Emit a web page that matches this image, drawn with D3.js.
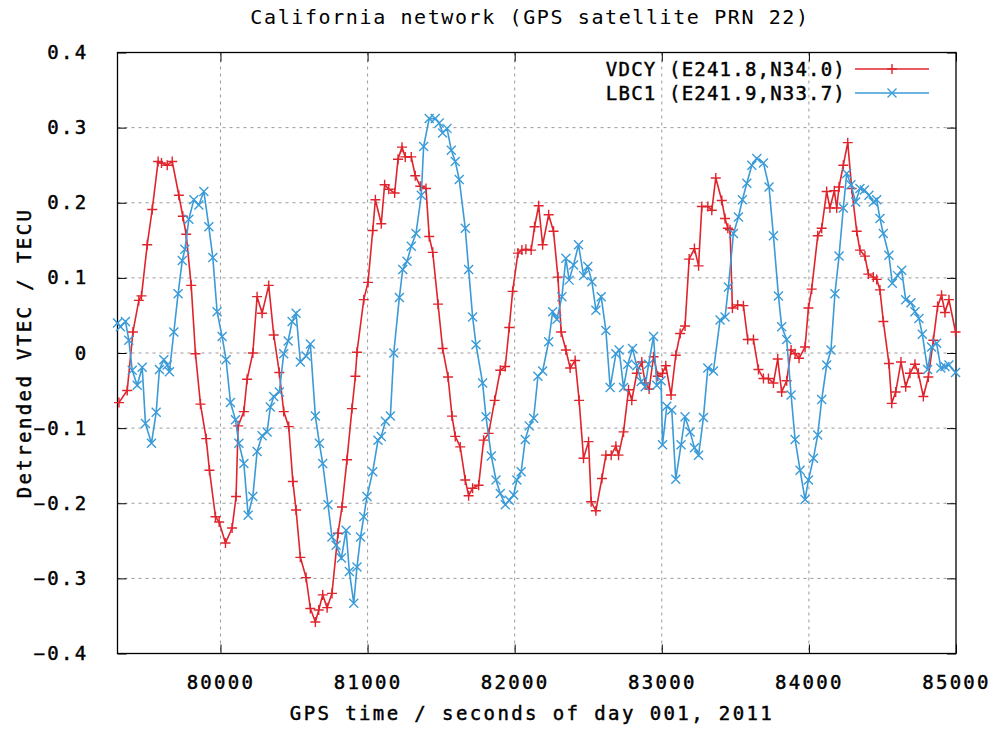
<!DOCTYPE html>
<html>
<head>
<meta charset="utf-8">
<script src="https://cdn.jsdelivr.net/npm/d3@7"></script>
<style>
  body { margin: 0; background: #fff; }
  svg text { font-family: "DejaVu Sans Mono", "Liberation Mono", monospace; fill: #000; }
  svg text.heavy { stroke: #000; stroke-width: 0.45px; }
</style>
</head>
<body>
<svg id="chart"></svg>
<script>
// VDCY (red, "+")
const vdcyTime = [
  79310,79366,79405,79445,79463,79502,79536,79576,79599,79638,79672,79717,79744,79767,79801,79830,79864,79903,79925,79966,79991,80034,80079,
  80106,80120,80159,80181,80220,80249,80283,80328,80362,80400,80430,80464,80492,80514,80543,80582,80611,80645,80668,80695,80725,80758,80799,80826,80860,
  80894,80917,80928,80974,81003,81035,81053,81093,81116,81144,81184,81207,81234,81256,81297,81324,81358,81397,81419,81443,81479,81510,81547,81574,81596,81630,81664,81687,81714,
  81755,81789,81823,81864,81902,81936,81963,81986,82022,82049,82076,82112,82135,82163,82190,82231,82264,82294,82316,82348,82377,82411,82438,82468,82502,82520,82552,
  82593,82620,82656,82688,82706,82740,82774,82796,82830,82864,82887,82914,82944,82973,83005,83027,83063,83095,83125,83158,83186,83222,83250,83272,83313,83340,83367,
  83408,83430,83449,83464,83480,83516,83555,83584,83623,83657,83691,83725,83759,83788,83815,83849,83879,83906,83933,83974,83997,84019,84060,84087,84121,84143,84173,
  84189,84205,84234,84264,84291,84325,84347,84381,84404,84438,84461,84483,84506,84544,84563,84590,84626,84658,84687,84721,84744,84778,84812,84846,84875,84902,84925,84952,84997
];
const vdcyValue = [
  -0.066,-0.05,0.028,0.07,0.076,0.144,0.191,0.255,0.253,0.25,0.255,0.21,0.182,0.158,0.09,-0.001,-0.068,-0.114,-0.156,-0.218,-0.225,-0.253,-0.233,
  -0.191,-0.097,-0.078,-0.035,0.0,0.075,0.053,0.09,0.024,-0.026,-0.078,-0.098,-0.171,-0.209,-0.272,-0.299,-0.34,-0.358,-0.342,-0.322,-0.339,-0.32,-0.24,-0.205,-0.142,
  -0.074,-0.031,0.001,0.071,0.094,0.163,0.204,0.172,0.224,0.218,0.213,0.258,0.274,0.261,0.261,0.236,0.222,0.219,0.155,0.134,0.065,0.006,-0.032,-0.084,-0.111,-0.125,-0.169,-0.19,-0.18,
  -0.176,-0.116,-0.107,-0.063,-0.023,-0.018,0.034,0.082,0.133,0.137,0.138,0.137,0.168,0.196,0.144,0.184,0.162,0.101,0.028,0.004,-0.02,-0.01,-0.063,-0.14,-0.118,-0.198,-0.21,
  -0.167,-0.136,-0.136,-0.124,-0.136,-0.105,-0.049,-0.063,-0.027,-0.012,-0.04,-0.048,-0.005,-0.031,-0.027,-0.017,-0.056,-0.003,0.026,0.036,0.125,0.139,0.116,0.195,0.195,0.19,0.233,
  0.203,0.179,0.166,0.164,0.06,0.064,0.063,0.018,0.018,-0.022,-0.034,-0.034,-0.04,-0.008,-0.052,-0.037,0.004,-0.001,-0.007,0.008,0.06,0.085,0.156,0.166,0.215,0.193,0.216,
  0.193,0.221,0.25,0.28,0.219,0.162,0.137,0.129,0.105,0.101,0.098,0.084,0.042,-0.014,-0.067,-0.052,-0.012,-0.045,-0.027,-0.015,-0.027,-0.058,-0.032,0.017,0.062,0.077,0.054,0.071,0.028
];

// LBC1 (blue, "x")
const lbc1Time = [
  79300,79320,79354,79377,79400,79434,79468,79490,79531,79563,79585,79615,79638,79653,79683,79712,79740,79758,79785,79819,79853,79887,79921,79948,79977,80011,80038,80068,
  80102,80125,80159,80188,80220,80249,80283,80317,80339,80362,80400,80430,80460,80487,80514,80543,80582,80611,80645,80672,80695,80731,80758,80786,80822,80854,80876,80906,
  80928,80952,80974,80996,81035,81071,81093,81121,81155,81178,81216,81239,81268,81297,81329,81365,81381,81419,81460,81487,81510,81540,81569,81596,81623,81664,81687,81714,81737,
  81782,81805,81841,81873,81902,81936,81963,81993,82015,82044,82072,82099,82129,82158,82190,82231,82258,82287,82321,82348,82370,82400,82434,82468,82497,82525,82552,
  82588,82620,82649,82688,82710,82740,82769,82801,82830,82860,82887,82910,82944,82966,82995,83005,83034,83068,83095,83131,83158,83192,83222,83250,83283,83313,83351,
  83396,83430,83453,83487,83521,83548,83578,83612,83646,83691,83729,83759,83793,83815,83849,83879,83906,83940,83974,83997,84031,84060,84087,84121,84150,84177,
  84205,84234,84257,84286,84318,84347,84377,84408,84438,84461,84483,84506,84544,84567,84603,84631,84658,84694,84721,84748,84771,84807,84834,84868,84897,84925,84952,84997
];
const lbc1Value = [
  0.04,0.035,0.042,0.017,-0.023,-0.043,-0.019,-0.094,-0.12,-0.079,-0.022,-0.009,-0.016,-0.025,0.028,0.079,0.123,0.138,0.178,0.204,0.197,0.215,0.168,0.127,0.055,0.022,-0.009,-0.066,
  -0.089,-0.12,-0.147,-0.216,-0.191,-0.131,-0.11,-0.105,-0.072,-0.058,-0.052,-0.001,0.016,0.042,0.053,-0.012,-0.004,0.012,-0.084,-0.12,-0.147,-0.202,-0.245,-0.256,-0.273,-0.236,-0.291,-0.333,
  -0.285,-0.245,-0.218,-0.191,-0.158,-0.116,-0.111,-0.091,-0.084,0.0,0.074,0.111,0.122,0.142,0.159,0.21,0.275,0.312,0.312,0.306,0.293,0.299,0.27,0.255,0.231,0.166,0.111,0.048,0.011,
  -0.04,-0.085,-0.137,-0.169,-0.187,-0.202,-0.196,-0.189,-0.169,-0.158,-0.115,-0.097,-0.087,-0.031,-0.024,0.015,0.055,0.045,0.075,0.126,0.097,0.117,0.144,0.103,0.115,0.095,0.057,
  0.075,0.03,-0.046,-0.001,0.004,-0.046,-0.015,0.006,-0.017,-0.038,-0.045,-0.015,0.022,-0.043,-0.037,-0.122,-0.071,-0.076,-0.168,-0.122,-0.085,-0.105,-0.126,-0.136,-0.086,-0.02,-0.024,
  0.044,0.048,0.088,0.159,0.181,0.204,0.226,0.25,0.259,0.253,0.221,0.156,0.076,0.035,0.018,-0.056,-0.115,-0.156,-0.195,-0.169,-0.14,-0.109,-0.062,-0.016,0.004,0.079,
  0.129,0.193,0.239,0.224,0.201,0.219,0.217,0.21,0.201,0.204,0.179,0.159,0.13,0.093,0.103,0.11,0.071,0.067,0.055,0.046,0.025,-0.022,0.008,0.013,-0.02,-0.018,-0.016,-0.026
];

const xTicks = [80000, 81000, 82000, 83000, 84000, 85000];
const yTicks = [-0.4, -0.3, -0.2, -0.1, 0, 0.1, 0.2, 0.3, 0.4];
const seriesNames = ["VDCY (E241.8,N34.0)", "LBC1 (E241.9,N33.7)"];

const width = 1004;
const height = 729;
const margin = { top: 52.5, right: 48, bottom: 75.5, left: 117.5 };
const red = "#e0242c";
const blue = "#3a9bd8";

const svg = d3.select("#chart")
    .attr("width", width)
    .attr("height", height);

const x = d3.scaleLinear()
    .domain([79300, 85000])
    .range([margin.left, width - margin.right]);

const y = d3.scaleLinear()
    .domain([-0.4, 0.4])
    .range([height - margin.bottom, margin.top]);

// grid
svg.append("g")
    .selectAll("line")
    .data(xTicks.filter(d => d < 85000))
    .join("line")
    .attr("x1", d => x(d)).attr("x2", d => x(d))
    .attr("y1", margin.top).attr("y2", height - margin.bottom)
    .attr("stroke", "#9a9a9a")
    .attr("stroke-dasharray", "3,4");

svg.append("g")
    .selectAll("line")
    .data(yTicks.filter(d => d > -0.4 && d < 0.4))
    .join("line")
    .attr("x1", margin.left).attr("x2", width - margin.right)
    .attr("y1", d => y(d)).attr("y2", d => y(d))
    .attr("stroke", "#9a9a9a")
    .attr("stroke-dasharray", "3,4");

// axes (gnuplot style: inward ticks, mirrored)
const tickFont = g => g.selectAll("text")
    .attr("class", "heavy")
    .style("font-size", "19px")
    .style("letter-spacing", "2.3px");

svg.append("g")
    .attr("transform", `translate(0,${height - margin.bottom})`)
    .call(d3.axisBottom(x).tickValues(xTicks).tickFormat(d3.format("d")).tickSizeInner(-9).tickSizeOuter(0).tickPadding(22))
    .call(g => g.select(".domain").remove())
    .call(tickFont);

svg.append("g")
    .attr("transform", `translate(0,${margin.top})`)
    .call(d3.axisTop(x).tickValues(xTicks).tickFormat("").tickSizeInner(-9).tickSizeOuter(0))
    .call(g => g.select(".domain").remove());

svg.append("g")
    .attr("transform", `translate(${margin.left},0)`)
    .call(d3.axisLeft(y).tickValues(yTicks).tickFormat(d => d === 0 ? "0" : d3.format(".1f")(d)).tickSizeInner(-9).tickSizeOuter(0).tickPadding(29))
    .call(g => g.select(".domain").remove())
    .call(tickFont);

svg.append("g")
    .attr("transform", `translate(${width - margin.right},0)`)
    .call(d3.axisRight(y).tickValues(yTicks).tickFormat("").tickSizeInner(-9).tickSizeOuter(0))
    .call(g => g.select(".domain").remove());

svg.selectAll(".tick line").attr("stroke", "#000");

svg.append("rect")
    .attr("x", margin.left).attr("y", margin.top)
    .attr("width", width - margin.left - margin.right)
    .attr("height", height - margin.top - margin.bottom)
    .attr("fill", "none")
    .attr("stroke", "#000")
    .attr("stroke-width", 1.3);

// series
const line = d3.line().x(d => x(d[0])).y(d => y(d[1]));

const drawSeries = (times, values, color, marker) => {
    const pts = times.map((t, i) => [t, values[i]]);
    svg.append("path")
        .datum(pts)
        .attr("d", line)
        .attr("fill", "none")
        .attr("stroke", color)
        .attr("stroke-width", 1.6);
    svg.append("g")
        .selectAll("path")
        .data(pts)
        .join("path")
        .attr("d", d => marker(x(d[0]), y(d[1])))
        .attr("stroke", color)
        .attr("stroke-width", 1.4)
        .attr("fill", "none");
};

const plus = (cx, cy) => `M${cx - 5},${cy}H${cx + 5}M${cx},${cy - 5}V${cy + 5}`;
const cross = (cx, cy) => `M${cx - 4.5},${cy - 4.5}L${cx + 4.5},${cy + 4.5}M${cx - 4.5},${cy + 4.5}L${cx + 4.5},${cy - 4.5}`;

drawSeries(vdcyTime, vdcyValue, red, plus);
drawSeries(lbc1Time, lbc1Value, blue, cross);

// legend
const legend = svg.append("g");
[[red, plus], [blue, cross]].forEach(([color, marker], i) => {
    const ly = 69 + i * 24;
    legend.append("text")
        .attr("class", "heavy")
        .attr("x", 846).attr("y", ly)
        .attr("dy", "0.35em")
        .attr("text-anchor", "end")
        .style("font-size", "19px")
        .style("letter-spacing", "1.2px")
        .text(seriesNames[i]);
    legend.append("line")
        .attr("x1", 855).attr("x2", 929)
        .attr("y1", ly).attr("y2", ly)
        .attr("stroke", color).attr("stroke-width", 1.5);
    legend.append("path")
        .attr("d", marker(892, ly))
        .attr("stroke", color).attr("stroke-width", 1.4);
});

// titles
svg.append("text")
    .attr("x", 530).attr("y", 24)
    .attr("text-anchor", "middle")
    .style("font-size", "20px")
    .style("letter-spacing", "1.6px")
    .text("California network (GPS satellite PRN 22)");

svg.append("text")
    .attr("x", 532).attr("y", 720)
    .attr("text-anchor", "middle")
    .attr("class", "heavy")
    .style("font-size", "19px")
    .style("letter-spacing", "2.4px")
    .text("GPS time / seconds of day 001, 2011");

svg.append("text")
    .attr("transform", "translate(31,353) rotate(-90)")
    .attr("text-anchor", "middle")
    .attr("class", "heavy")
    .style("font-size", "19px")
    .style("letter-spacing", "2.4px")
    .text("Detrended VTEC / TECU");
</script>
</body>
</html>
